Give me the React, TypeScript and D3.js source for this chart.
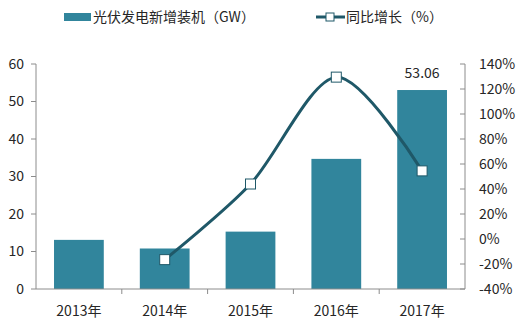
import * as d3 from 'd3'

const years = ['2013年', '2014年', '2015年', '2016年', '2017年']
const installed = [13.1, 10.8, 15.3, 34.7, 53.06]
const growth = [null, -16.5, 44, 129.5, 54.5]
const leftTicks = [0, 10, 20, 30, 40, 50, 60]
const rightTicks = [-40, -20, 0, 20, 40, 60, 80, 100, 120, 140]

const W = 517
const H = 321
const margin = { top: 64, right: 52, bottom: 32, left: 36 }

const barColor = '#31859c'
const lineColor = '#1f5868'
const axisColor = '#8c8c8c'
const textColor = '#262626'
const font = '"Noto Sans CJK SC", "Noto Sans", sans-serif'

export default function App() {
  const x = d3
    .scaleBand()
    .domain(years)
    .range([margin.left, W - margin.right])
    .paddingInner(0.42)
    .paddingOuter(0.21)

  const y = d3.scaleLinear().domain([0, 60]).range([H - margin.bottom, margin.top])
  const y2 = d3.scaleLinear().domain([-40, 140]).range([H - margin.bottom, margin.top])

  const pts = years
    .map((yr, i) => ({ yr, v: growth[i] }))
    .filter((d) => d.v !== null) as { yr: string, v: number }[]

  // excel-ish smoothed line
  const line = d3
    .line<{ yr: string, v: number }>()
    .x((d) => (x(d.yr) || 0) + x.bandwidth() / 2)
    .y((d) => y2(d.v))
    .curve(d3.curveCardinal.tension(0.1))

  const x0 = margin.left
  const x1 = W - margin.right
  const yb = H - margin.bottom
  const step = (x1 - x0) / years.length

  return (
    <svg width={W} height={H} style={{ position: 'absolute', left: 0, top: 0, fontFamily: font }}>
      <rect width={W} height={H} fill="#fff" />

      {/* legend */}
      <rect x={64} y={13} width={27} height={8} fill={barColor} />
      <text x={93} y={17} dy="0.35em" fontSize={14} fill={textColor}>光伏发电新增装机（GW）</text>
      <line x1={316} x2={345} y1={17} y2={17} stroke={lineColor} strokeWidth={3} />
      <rect x={326} y={13} width={8} height={8} fill="#fff" stroke={lineColor} strokeWidth={1} />
      <text x={346} y={17} dy="0.35em" fontSize={14} fill={textColor}>同比增长（%）</text>

      {/* bars */}
      {years.map((yr, i) => (
        <rect key={yr} x={x(yr)} y={y(installed[i])} width={x.bandwidth()}
          height={yb - y(installed[i])} fill={barColor} />
      ))}
      <text x={(x('2017年') || 0) + x.bandwidth() / 2} y={y(53.06) - 12} textAnchor="middle"
        fontSize={14} fill={textColor}>53.06</text>

      {/* left axis */}
      <line x1={x0} x2={x0} y1={margin.top} y2={yb} stroke={axisColor} />
      {leftTicks.map((t) => (
        <g key={t}>
          <line x1={x0 - 5} x2={x0} y1={y(t)} y2={y(t)} stroke={axisColor} />
          <text x={x0 - 12} y={y(t)} dy="0.35em" textAnchor="end" fontSize={14} fill={textColor}>{t}</text>
        </g>
      ))}

      {/* right axis */}
      <line x1={x1} x2={x1} y1={margin.top} y2={yb} stroke={axisColor} />
      {rightTicks.map((t) => (
        <g key={t}>
          <line x1={x1 - 5} x2={x1} y1={y2(t)} y2={y2(t)} stroke={axisColor} />
          <text x={x1 + 14} y={y2(t)} dy="0.35em" fontSize={14} fill={textColor}>{t}%</text>
        </g>
      ))}

      {/* x axis */}
      <line x1={x0} x2={x1} y1={yb} y2={yb} stroke={axisColor} />
      {years.map((yr, i) => (
        <g key={yr}>
          {i > 0 && <line x1={x0 + step * i} x2={x0 + step * i} y1={yb} y2={yb + 5} stroke={axisColor} />}
          <text x={(x(yr) || 0) + x.bandwidth() / 2} y={yb + 22} dy="0.35em" textAnchor="middle"
            fontSize={14} fill={textColor}>{yr}</text>
        </g>
      ))}

      {/* growth line */}
      <path d={line(pts) || ''} fill="none" stroke={lineColor} strokeWidth={3} />
      {pts.map((d) => (
        <rect key={d.yr} x={(x(d.yr) || 0) + x.bandwidth() / 2 - 5} y={y2(d.v) - 5} width={10} height={10}
          fill="#fff" stroke={lineColor} strokeWidth={1} />
      ))}
    </svg>
  )
}
